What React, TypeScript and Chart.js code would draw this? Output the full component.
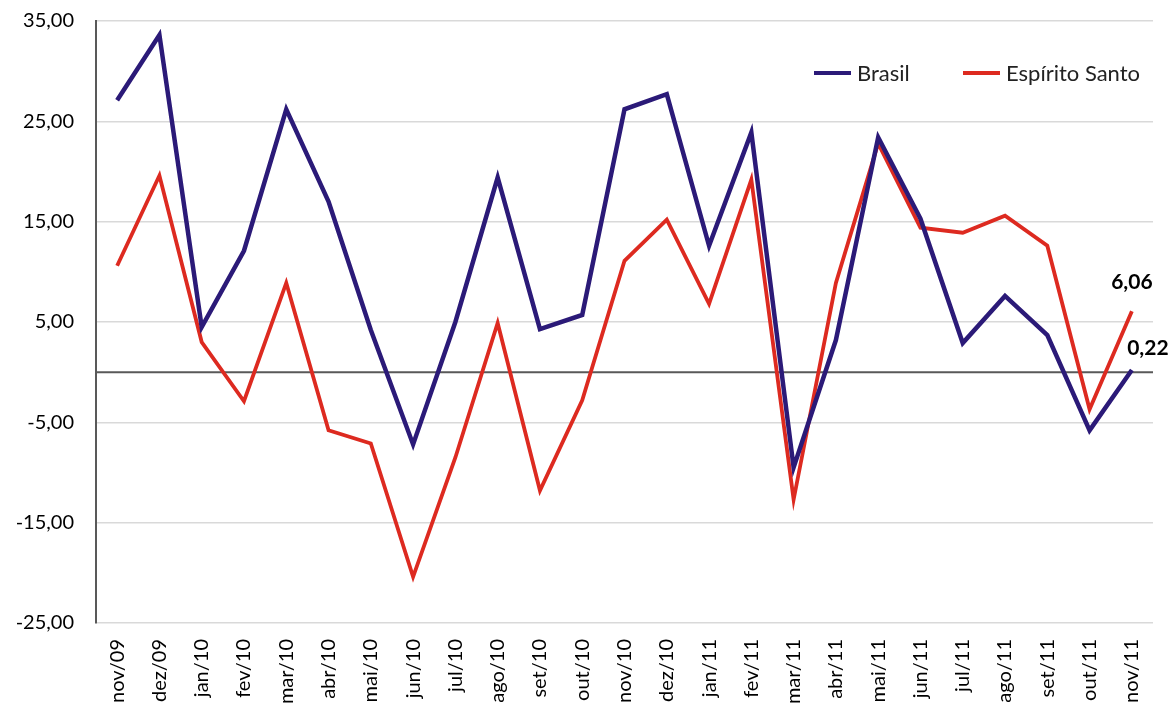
import React, { useEffect, useRef } from "react";
import { Chart, registerables } from "chart.js";

Chart.register(...registerables);

const categories = [
  "nov/09", "dez/09", "jan/10", "fev/10", "mar/10", "abr/10", "mai/10", "jun/10",
  "jul/10", "ago/10", "set/10", "out/10", "nov/10", "dez/10", "jan/11", "fev/11",
  "mar/11", "abr/11", "mai/11", "jun/11", "jul/11", "ago/11", "set/11", "out/11", "nov/11",
];

const brasil = [
  27.1, 33.6, 4.5, 12.1, 26.2, 17.0, 4.2, -7.2, 5.0, 19.4, 4.3, 5.7, 26.2, 27.7,
  12.6, 23.9, -9.5, 3.2, 23.4, 15.3, 2.9, 7.6, 3.7, -5.8, 0.22,
];

const espiritoSanto = [
  10.6, 19.6, 3.0, -2.9, 8.9, -5.8, -7.1, -20.4, -8.5, 4.9, -11.8, -2.8, 11.1, 15.2,
  6.8, 19.2, -12.7, 8.9, 22.8, 14.4, 13.9, 15.6, 12.6, -3.7, 6.06,
];

const yMin = -25;
const yMax = 35;
const yStep = 10;

const BLUE = "#2b1a78";
const RED = "#dd2a20";
const FONT = "Lato, 'Open Sans', sans-serif";

const fmt = (v: number) => v.toFixed(2).replace(".", ",");

export default function App() {
  const ref = useRef<HTMLCanvasElement>(null);

  useEffect(() => {
    document.body.style.margin = "0";
    const canvas = ref.current;
    if (!canvas) return;

    const overlay = {
      id: "overlay",
      beforeDatasetsDraw(chart: any) {
        const { ctx, chartArea, scales } = chart;
        const y0 = scales.y.getPixelForValue(0);
        ctx.save();
        ctx.strokeStyle = "#595959";
        ctx.lineWidth = 2;
        ctx.beginPath();
        ctx.moveTo(chartArea.left, y0);
        ctx.lineTo(chartArea.right, y0);
        ctx.stroke();
        ctx.restore();
      },
      afterDraw(chart: any) {
        const { ctx, scales } = chart;
        ctx.save();
        // legend
        ctx.lineWidth = 4;
        ctx.strokeStyle = BLUE;
        ctx.beginPath();
        ctx.moveTo(814, 73);
        ctx.lineTo(851, 73);
        ctx.stroke();
        ctx.strokeStyle = RED;
        ctx.beginPath();
        ctx.moveTo(963, 73);
        ctx.lineTo(1000, 73);
        ctx.stroke();
        ctx.fillStyle = "#222";
        ctx.font = `22px ${FONT}`;
        ctx.textBaseline = "middle";
        ctx.textAlign = "left";
        ctx.fillText("Brasil", 857, 74);
        ctx.fillText("Espírito Santo", 1006, 74);
        // end labels
        const last = categories.length - 1;
        const xl = scales.x.getPixelForValue(last);
        ctx.font = `bold 21px ${FONT}`;
        ctx.fillStyle = "#000";
        ctx.textAlign = "center";
        ctx.fillText(fmt(espiritoSanto[last]), xl + 0, scales.y.getPixelForValue(espiritoSanto[last]) - 29);
        ctx.fillText(fmt(brasil[last]), xl + 16, scales.y.getPixelForValue(brasil[last]) - 22);
        ctx.restore();
      },
    };

    const chart = new Chart(canvas, {
      type: "line",
      data: {
        labels: categories,
        datasets: [
          {
            label: "Brasil",
            data: brasil,
            borderColor: BLUE,
            backgroundColor: BLUE,
            borderWidth: 4.5,
            pointRadius: 0,
            tension: 0,
            borderJoinStyle: "miter",
          },
          {
            label: "Espírito Santo",
            data: espiritoSanto,
            borderColor: RED,
            backgroundColor: RED,
            borderWidth: 3.8,
            pointRadius: 0,
            tension: 0,
            borderJoinStyle: "miter",
          },
        ],
      },
      options: {
        responsive: false,
        animation: false,
        layout: { padding: { top: 21, right: 20, left: 0, bottom: 0 } },
        plugins: {
          legend: { display: false },
          tooltip: { enabled: false },
        },
        scales: {
          x: {
            offset: true,
            grid: { display: false, drawTicks: false },
            border: { display: false },
            ticks: {
              minRotation: 90,
              maxRotation: 90,
              autoSkip: false,
              padding: 16,
              color: "#000",
              font: { family: FONT, size: 20 },
            },
            afterFit(scale: any) {
              scale.height = 85;
              scale.paddingTop = 0;
              scale.paddingBottom = 0;
            },
          },
          y: {
            min: yMin,
            max: yMax,
            grid: { color: "#d9d9d9", lineWidth: 1.5, drawTicks: false },
            border: { display: true, color: "#595959", width: 2 },
            ticks: {
              stepSize: yStep,
              padding: 22,
              color: "#000",
              font: { family: FONT, size: 20 },
              callback: (v: any) => fmt(Number(v)),
            },
            afterFit(scale: any) {
              scale.width = 96;
              scale.paddingTop = 0;
              scale.paddingBottom = 0;
            },
          },
        },
      },
      plugins: [overlay],
    });

    return () => chart.destroy();
  }, []);

  return <canvas ref={ref} width={1173} height={708} style={{ display: "block" }} />;
}
